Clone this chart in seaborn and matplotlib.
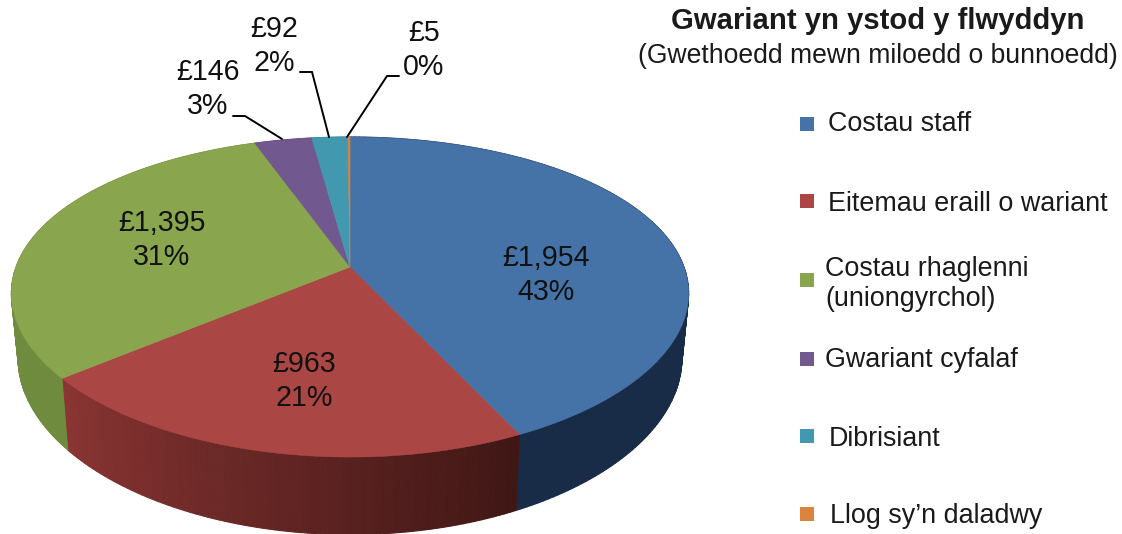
import numpy as np
import matplotlib
matplotlib.use("Agg")
import matplotlib.pyplot as plt
from matplotlib.colors import to_rgb
import seaborn as sns

# === Data (thousands of pounds) ===
categories = ["Costau staff", "Eitemau eraill o wariant", "Costau rhaglenni\n(uniongyrchol)",
              "Gwariant cyfalaf", "Dibrisiant", "Llog sy\u2019n daladwy"]
amounts = [1954, 963, 1395, 146, 92, 5]
amount_labels = ["\u00a31,954", "\u00a3963", "\u00a31,395", "\u00a3146", "\u00a392", "\u00a35"]
pct_labels = ["43%", "21%", "31%", "3%", "2%", "0%"]
colors = ["#4572a7", "#aa4643", "#89a54e", "#71588f", "#4198af", "#db843d"]
side_left = ["#182b47", "#8a3533", "#6f8b3e", "#5a4672", "#347c8c", "#af6a31"]
side_right = ["#182b47", "#3f1715", "#6f8b3e", "#5a4672", "#347c8c", "#af6a31"]

sns.set_theme(style="white")
plt.rcParams["font.family"] = ["Liberation Sans", "DejaVu Sans"]

# projection of the pie disc, in pixels of the figure
CX, CY, RX, RY, KX, KY, DEPTH = 350, 267, 334, 154.4, 0.165, 0.1875, 63


def project(theta, drop=False):
    u, v = np.sin(theta), np.cos(theta)
    x = RX * u / (1 + KX * v)
    w = 1 + KY * v
    y = RY * v / w
    if drop:
        return CX + x * 0.98, CY - y + DEPTH / w
    return CX + x, CY - y


fig, ax = plt.subplots(figsize=(11.22, 5.34), dpi=100)
fig.subplots_adjust(0, 0, 1, 1)
ax.set_xlim(0, 1122)
ax.set_ylim(534, 0)
ax.axis("off")

edges = np.cumsum([0] + amounts) / sum(amounts) * 2 * np.pi

# side wall, cut in thin strips so the shading can run along it
for i in range(len(amounts)):
    n = max(int((edges[i + 1] - edges[i]) * 60), 1)
    th = np.linspace(edges[i], edges[i + 1], n + 1)
    c0, c1 = np.array(to_rgb(side_left[i])), np.array(to_rgb(side_right[i]))
    for j in range(n):
        t = np.array([th[j], th[j + 1]])
        x1, y1 = project(t)
        x2, y2 = project(t[::-1], drop=True)
        # red wedge runs clockwise from dark to light
        f = j / max(n - 1, 1)
        col = c1 * (1 - f) + c0 * f
        ax.fill(np.r_[x1, x2], np.r_[y1, y2], color=col, lw=0.8, zorder=1)

# top of the pie
for i in range(len(amounts)):
    th = np.linspace(edges[i], edges[i + 1], 120)
    x, y = project(th)
    ax.fill(np.r_[CX, x], np.r_[CY, y], color=colors[i], lw=0.4, zorder=2)

# value labels
label_pos = [(546, 275), (304, 381), (162, 240), (208, 89), (274, 46), (424, 50)]
for i, (lx, ly) in enumerate(label_pos):
    ax.text(lx, ly, amount_labels[i] + "\n" + pct_labels[i], ha="center", va="center",
            fontsize=20.6, color="#111111", linespacing=1.28, zorder=4)

# leader lines of the small slices
leaders = [([233, 245, 282], [116, 116, 139]),
           ([300, 312, 329], [72, 72, 137]),
           ([399, 387, 347], [76, 76, 137])]
for lx, ly in leaders:
    ax.plot(lx, ly, color="black", lw=1.4, zorder=3, solid_joinstyle="miter")

# legend
ax.text(878, 21, "Gwariant yn ystod y flwyddyn", ha="center", va="center",
        fontsize=21.1, fontweight="bold", color="#1a1a1a")
ax.text(878, 56, "(Gwethoedd mewn miloedd o bunnoedd)", ha="center", va="center",
        fontsize=19.1, color="#1a1a1a")
legend_y = [124, 204, 284, 360, 439, 516]
legend_x = [828, 828, 825, 825, 829, 830]
square_y = [124, 201, 280, 359, 436, 514]
for i, cat in enumerate(categories):
    ax.scatter([807.5], [square_y[i]], marker="s", s=110, color=colors[i], lw=0, zorder=3)
    ax.text(legend_x[i], legend_y[i], cat, ha="left", va="center", fontsize=19.4,
            color="#1a1a1a", linespacing=1.2)

fig.savefig("out.png", dpi=100)
